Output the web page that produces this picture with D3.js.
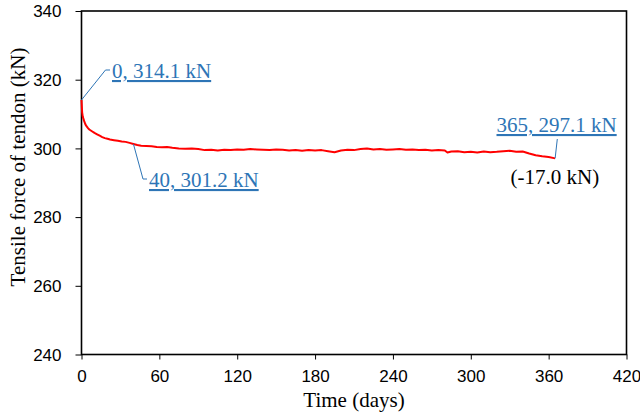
<!DOCTYPE html>
<html>
<head>
<meta charset="utf-8">
<script src="https://cdn.jsdelivr.net/npm/d3@7"></script>
<style>
  html, body { margin: 0; padding: 0; background: #fff; }
  svg { display: block; font-family: "Liberation Serif", "Times New Roman", serif; }
  .tick text { font-size: 17px; fill: #000; }
  .tick line { stroke: #000; }
</style>
</head>
<body>
<div id="chart"></div>
<script>
// Tendon force readings
const days = [0, 0.5, 1, 2, 3, 4, 5, 6, 8, 10, 12, 14, 16, 18, 20, 22, 25, 28, 31, 34, 37, 40,
  43, 46, 50, 54, 58, 62, 66, 70, 75, 80, 85, 90, 95, 100, 105, 110, 115, 120, 125, 130, 135,
  140, 145, 150, 155, 160, 165, 170, 175, 180, 185, 190, 195, 200, 205, 210, 215, 220, 225,
  230, 235, 240, 245, 250, 255, 260, 265, 270, 275, 280, 282, 285, 290, 295, 300, 305, 310,
  315, 320, 325, 330, 335, 340, 345, 350, 355, 360, 365];
const force = [314.1, 310.5, 309.2, 308.0, 307.0, 306.4, 305.9, 305.5, 305.0, 304.5, 304.1,
  303.7, 303.3, 303.0, 302.8, 302.6, 302.4, 302.2, 302.0, 301.9, 301.6, 301.3, 301.0, 300.8,
  300.7, 300.6, 300.4, 300.3, 300.4, 300.2, 300.0, 299.9, 300.0, 299.8, 299.5, 299.6, 299.4,
  299.6, 299.5, 299.7, 299.6, 299.8, 299.7, 299.6, 299.5, 299.7, 299.6, 299.4, 299.5, 299.3,
  299.5, 299.4, 299.5, 299.2, 298.9, 299.4, 299.6, 299.5, 299.8, 300.0, 299.7, 299.8, 299.6,
  299.7, 299.8, 299.6, 299.7, 299.5, 299.6, 299.4, 299.5, 299.4, 298.8, 299.1, 299.2, 298.9,
  299.0, 298.8, 299.1, 298.9, 299.0, 299.2, 299.3, 299.0, 299.1, 298.5, 298.0, 297.7, 297.5,
  297.1];

const xTicks = [0, 60, 120, 180, 240, 300, 360, 420];
const yTicks = [240, 260, 280, 300, 320, 340];

const calloutDays = [0, 40, 365];
const calloutLabels = ['0, 314.1 kN', '40, 301.2 kN', '365, 297.1 kN'];
const lossLabel = '(-17.0 kN)';

const width = 640;
const height = 413;
const margin = { top: 11, right: 13.5, bottom: 58.5, left: 81.5 };
const innerW = width - margin.left - margin.right;
const innerH = height - margin.top - margin.bottom;
const blue = '#2E75B6';

const data = days.map((d, i) => ({ day: d, value: force[i] }));

const x = d3.scaleLinear().domain([0, 420]).range([0, innerW]);
const y = d3.scaleLinear().domain([240, 340]).range([innerH, 0]);

const svg = d3.select('#chart')
  .append('svg')
  .attr('width', width)
  .attr('height', height)
  .append('g')
  .attr('transform', `translate(${margin.left},${margin.top})`);

// axes
svg.append('g')
  .attr('transform', `translate(0,${innerH})`)
  .call(d3.axisBottom(x).tickValues(xTicks).tickSize(5).tickPadding(10))
  .call((g) => g.select('.domain').remove());

svg.append('g')
  .call(d3.axisLeft(y).tickValues(yTicks).tickSize(6).tickPadding(14))
  .call((g) => g.select('.domain').remove())
  .selectAll('text')
  .attr('dy', '0.34em');

// plot frame
svg.append('rect')
  .attr('width', innerW)
  .attr('height', innerH)
  .attr('fill', 'none')
  .attr('stroke', '#000')
  .attr('stroke-width', 1.6);

// force curve
svg.append('path')
  .datum(data)
  .attr('fill', 'none')
  .attr('stroke', '#ff0000')
  .attr('stroke-width', 2)
  .attr('stroke-linejoin', 'round')
  .attr('d', d3.line().x((d) => x(d.day)).y((d) => y(d.value)));

// callouts
const pointFor = (day) => data.find((d) => d.day === day);
const calloutText = [
  { tx: 30.5, ty: 67, bend: [24, 59] },
  { tx: 67.5, ty: 176, bend: [61.5, 168] },
  { tx: 415, ty: 121, bend: [475.8, 128] }
];

calloutDays.forEach((day, i) => {
  const p = pointFor(day);
  const c = calloutText[i];
  const px = x(p.day);
  const py = y(p.value);
  const pts = i === 2
    ? [[px, py], c.bend]
    : [[px, py], c.bend, [c.tx - 2, c.bend[1]]];
  svg.append('path')
    .attr('d', d3.line()(pts))
    .attr('fill', 'none')
    .attr('stroke', blue)
    .attr('stroke-width', 1);
  svg.append('text')
    .attr('x', c.tx)
    .attr('y', c.ty)
    .attr('fill', blue)
    .attr('font-size', 21)
    .style('text-decoration', 'underline')
    .text(calloutLabels[i]);
});

svg.append('text')
  .attr('x', 429)
  .attr('y', 173)
  .attr('font-size', 21)
  .attr('fill', '#000')
  .text(lossLabel);

// axis titles
svg.append('text')
  .attr('x', 272.5)
  .attr('y', innerH + 52)
  .attr('text-anchor', 'middle')
  .attr('font-size', 21)
  .text('Time (days)');

svg.append('text')
  .attr('transform', `translate(${-57},${156}) rotate(-90)`)
  .attr('text-anchor', 'middle')
  .attr('font-size', 21)
  .text('Tensile force of tendon (kN)');
</script>
</body>
</html>
